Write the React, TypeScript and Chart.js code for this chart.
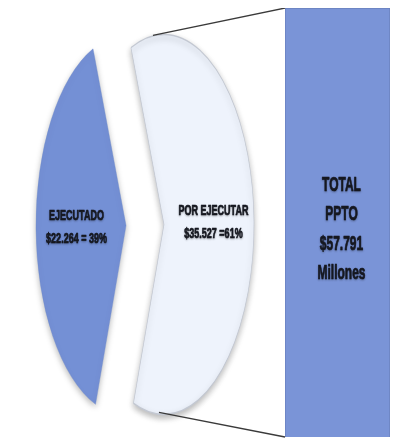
import React, { useEffect, useRef } from "react";
import { Chart, registerables } from "chart.js";

Chart.register(...registerables);

// ---- data ----
const sliceLabels = ["EJECUTADO", "POR EJECUTAR"];
const sliceValues = [22264, 35527];
const sliceTexts = [
  ["EJECUTADO", "$22.264 = 39%"],
  ["POR EJECUTAR", "$35.527 =61%"],
];
const barCategories = ["TOTAL PPTO"];
const barValues = [57791];
const barTexts = ["TOTAL", "PPTO", "$57.791", "Millones"];

const W = 403;
const H = 433;
const SQUASH = 0.474;
const EXPLODE = 40;
const FONT = "'Liberation Sans', Arial, sans-serif";

function drawText(ctx: CanvasRenderingContext2D, text: string, x: number, y: number, size: number, sx: number) {
  ctx.save();
  ctx.translate(x, y);
  ctx.scale(sx, 1);
  ctx.font = `bold ${size}px ${FONT}`;
  ctx.textAlign = "center";
  ctx.textBaseline = "middle";
  ctx.shadowColor = "rgba(0,0,0,0.25)";
  ctx.shadowBlur = 2;
  ctx.shadowOffsetY = 1;
  ctx.fillStyle = "#15171f";
  ctx.strokeStyle = "#15171f";
  ctx.lineWidth = 0.7;
  ctx.lineJoin = "round";
  ctx.strokeText(text, 0, 0);
  ctx.fillText(text, 0, 0);
  ctx.restore();
}

export default function App() {
  const barRef = useRef<HTMLCanvasElement | null>(null);
  const pieRef = useRef<HTMLCanvasElement | null>(null);

  useEffect(() => {
    if (!barRef.current || !pieRef.current) return;

    const barTextPlugin = {
      id: "barText",
      afterDatasetsDraw(chart: any) {
        const ctx = chart.ctx as CanvasRenderingContext2D;
        const el = chart.getDatasetMeta(0).data[0] as any;
        if (!el) return;
        const cx = el.x + 4;
        const midY = (el.y + el.base) / 2 + 7;
        const step = 29.5;
        const start = midY - (step * (barTexts.length - 1)) / 2;
        barTexts.forEach((t, i) => drawText(ctx, t, cx, start + i * step, 20, 0.6));
      },
    };

    const bar = new Chart(barRef.current, {
      type: "bar",
      data: {
        labels: barCategories,
        datasets: [
          {
            data: barValues,
            backgroundColor: "#7A94D7",
            borderColor: "#6a80bd",
            borderWidth: 1,
            barPercentage: 1,
            categoryPercentage: 1,
          },
        ],
      },
      options: {
        animation: false,
        responsive: false,
        devicePixelRatio: 1,
        layout: { padding: { left: 277, right: 21, top: 0, bottom: 4 } },
        plugins: { legend: { display: false }, tooltip: { enabled: false } },
        scales: {
          x: { display: false },
          y: { display: false, min: 0, max: 57791 },
        },
      },
      plugins: [barTextPlugin],
    });

    // squashed (elliptical) exploded pie: draw each arc element with its own shift
    const squashPlugin = {
      id: "squash",
      beforeDatasetsDraw(chart: any) {
        const ctx = chart.ctx as CanvasRenderingContext2D;
        const arcs = chart.getDatasetMeta(0).data as any[];
        const cx = arcs[0].x;
        const cy = arcs[0].y;
        ctx.save();
        ctx.translate(cx, cy);
        ctx.scale(SQUASH, 1);
        ctx.translate(-cx, -cy);
        ctx.shadowColor = "rgba(0,0,0,0.28)";
        ctx.shadowBlur = 6;
        ctx.shadowOffsetY = 3;
        arcs.forEach((a) => {
          const m = (a.startAngle + a.endAngle) / 2;
          ctx.save();
          ctx.translate(Math.cos(m) * EXPLODE, Math.sin(m) * EXPLODE);
          a.draw(ctx);
          ctx.restore();
        });
        ctx.restore();
        return false;
      },
      afterDraw(chart: any) {
        const ctx = chart.ctx as CanvasRenderingContext2D;
        const arcs = chart.getDatasetMeta(0).data as any[];
        const cx = arcs[0].x;
        // connector lines from the right slice to the bar
        const right = arcs[1];
        const mid = (right.startAngle + right.endAngle) / 2;
        const rcx = cx + Math.cos(mid) * EXPLODE * SQUASH;
        const rcy = right.y + Math.sin(mid) * EXPLODE;
        const barEl = bar.getDatasetMeta(0).data[0] as any;
        const bl = barEl.x - barEl.width / 2;
        ctx.save();
        ctx.strokeStyle = "#3a3a3a";
        ctx.lineWidth = 1.3;
        ctx.beginPath();
        ctx.moveTo(rcx - 11, rcy - right.outerRadius + 1);
        ctx.lineTo(bl, barEl.y);
        ctx.moveTo(rcx - 5, rcy + right.outerRadius - 2);
        ctx.lineTo(bl, barEl.base);
        ctx.stroke();
        ctx.restore();
        // labels
        arcs.forEach((a, i) => {
          const m = (a.startAngle + a.endAngle) / 2;
          const d = EXPLODE + a.outerRadius * 0.55;
          const x = cx + Math.cos(m) * d * SQUASH;
          const y = a.y + Math.sin(m) * d;
          const lines = sliceTexts[i];
          drawText(ctx, lines[0], x, y - 11.5, 15, 0.6);
          drawText(ctx, lines[1], x, y + 11.5, 15, 0.6);
        });
      },
    };

    const pie = new Chart(pieRef.current, {
      type: "pie",
      data: {
        labels: sliceLabels,
        datasets: [
          {
            data: sliceValues,
            backgroundColor: ["#7490D5", "#EEF3FC"],
            borderColor: ["#6d88cc", "#c3c8d2"],
            borderWidth: [0.5, 1.5],
            clip: false,
          } as any,
        ],
      },
      options: {
        animation: false,
        responsive: false,
        devicePixelRatio: 1,
        radius: 190,
        rotation: 199.8,
        layout: { padding: { left: 0, right: 129, top: 1, bottom: 0 } },
        plugins: { legend: { display: false }, tooltip: { enabled: false } },
      } as any,
      plugins: [squashPlugin],
    });

    return () => {
      pie.destroy();
      bar.destroy();
    };
  }, []);

  return (
    <div style={{ position: "relative", width: W, height: H }}>
      <canvas ref={barRef} width={W} height={H} style={{ position: "absolute", left: 0, top: 0 }} />
      <canvas ref={pieRef} width={W} height={H} style={{ position: "absolute", left: 0, top: 0, pointerEvents: "none" }} />
    </div>
  );
}
